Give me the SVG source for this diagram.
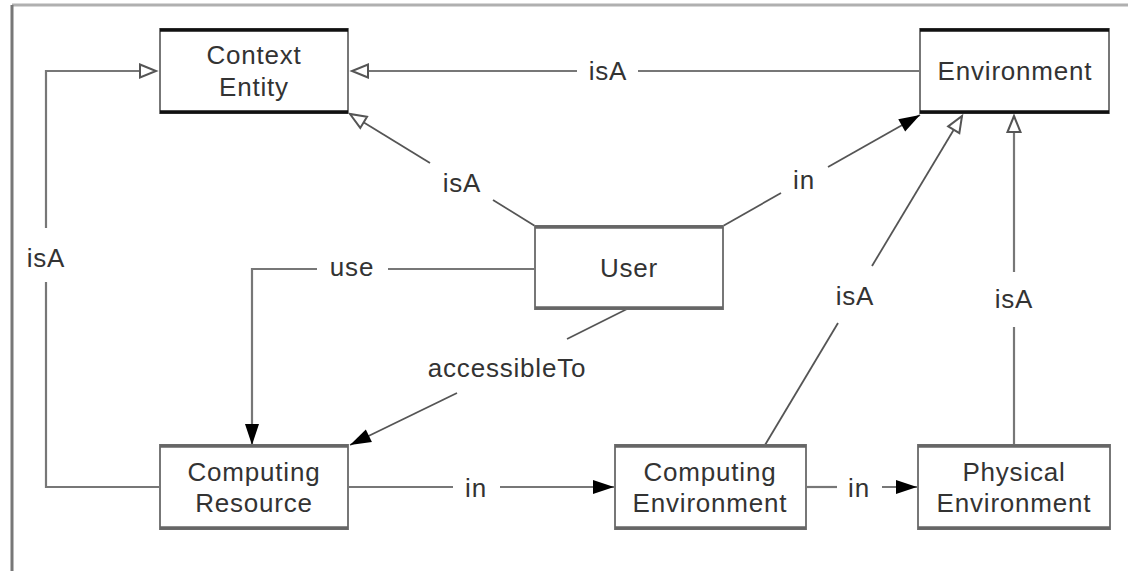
<svg xmlns="http://www.w3.org/2000/svg" width="1128" height="571" viewBox="0 0 1128 571">
<style>
text{font-family:"Liberation Sans",Arial,sans-serif;font-size:26px;fill:#333;text-anchor:middle;letter-spacing:0.8px}
.box{fill:#fff;stroke:#777;stroke-width:2}
.edgeTop{stroke:#111;stroke-width:3.5}
.edgeLow{stroke:#666;stroke-width:3.5}
.c{fill:none;stroke:#777;stroke-width:2.2}
.d{fill:none;stroke:#555;stroke-width:1.8}
.frame{stroke:#b0b0b0;stroke-width:3}
</style>
<defs>
<marker id="open" markerUnits="userSpaceOnUse" markerWidth="22" markerHeight="18" refX="18" refY="8" orient="auto">
<path d="M2,1.5 L18,8 L2,14.5 Z" fill="#fff" stroke="#555" stroke-width="2"/>
</marker>
<marker id="fill" markerUnits="userSpaceOnUse" markerWidth="24" markerHeight="18" refX="22" refY="8" orient="auto">
<path d="M1,1 L22,8 L1,15 Z" fill="#000"/>
</marker>
</defs>
<line class="frame" x1="12" y1="5" x2="1128" y2="5"/>
<line x1="12" y1="5" x2="12" y2="571" stroke="#777" stroke-width="3"/>
<g id="connectors">
<polyline class="c" points="160,487 46,487 46,282"/>
<polyline class="c" points="46,228 46,71 156,71" marker-end="url(#open)"/>
<text x="46" y="267">isA</text>
<line class="c" x1="920" y1="71" x2="638" y2="71"/>
<line class="c" x1="577" y1="71" x2="352" y2="71" marker-end="url(#open)"/>
<text x="608" y="80">isA</text>
<line class="d" x1="535" y1="226" x2="493" y2="200"/>
<line class="d" x1="430" y1="163" x2="350" y2="114" marker-end="url(#open)"/>
<text x="462" y="192">isA</text>
<line class="d" x1="723" y1="226" x2="781" y2="193"/>
<line class="d" x1="828" y1="167" x2="920" y2="115" marker-end="url(#fill)"/>
<text x="804" y="189">in</text>
<line class="d" x1="765" y1="445" x2="838" y2="323"/>
<line class="d" x1="872" y1="266" x2="962" y2="116" marker-end="url(#open)"/>
<text x="855" y="305">isA</text>
<line class="c" x1="1014" y1="445" x2="1014" y2="327"/>
<line class="c" x1="1014" y1="272" x2="1014" y2="116" marker-end="url(#open)"/>
<text x="1014" y="308">isA</text>
<line class="c" x1="535" y1="269" x2="388" y2="269"/>
<polyline class="c" points="317,269 252,269 252,445" marker-end="url(#fill)"/>
<text x="352" y="276">use</text>
<line class="d" x1="627" y1="309" x2="567" y2="339"/>
<line class="d" x1="457" y1="393" x2="350" y2="445" marker-end="url(#fill)"/>
<text x="507" y="377">accessibleTo</text>
<line class="c" x1="348" y1="487" x2="453" y2="487"/>
<line class="c" x1="500" y1="487" x2="614" y2="487" marker-end="url(#fill)"/>
<text x="476" y="497">in</text>
<line class="c" x1="806" y1="487" x2="837" y2="487"/>
<line class="c" x1="882" y1="487" x2="917" y2="487" marker-end="url(#fill)"/>
<text x="859" y="497">in</text>
</g>
<g id="context-entity">
<rect class="box" x="160" y="29" width="188" height="84"/>
<line class="edgeTop" x1="160" y1="30" x2="348" y2="30"/>
<line class="edgeTop" x1="160" y1="112" x2="348" y2="112"/>
<text x="254" y="64">Context</text>
<text x="254" y="96">Entity</text>
</g>
<g id="environment">
<rect class="box" x="920" y="29" width="189" height="84"/>
<line class="edgeTop" x1="920" y1="30" x2="1109" y2="30"/>
<line class="edgeTop" x1="920" y1="112" x2="1109" y2="112"/>
<text x="1015" y="80">Environment</text>
</g>
<g id="user">
<rect class="box" x="535" y="226" width="188" height="83"/>
<line class="edgeLow" x1="535" y1="227" x2="723" y2="227"/>
<line class="edgeLow" x1="535" y1="308" x2="723" y2="308"/>
<text x="629" y="277">User</text>
</g>
<g id="computing-resource">
<rect class="box" x="160" y="445" width="188" height="84"/>
<line class="edgeLow" x1="160" y1="446" x2="348" y2="446"/>
<line class="edgeLow" x1="160" y1="528" x2="348" y2="528"/>
<text x="254" y="481">Computing</text>
<text x="254" y="512">Resource</text>
</g>
<g id="computing-environment">
<rect class="box" x="615" y="445" width="191" height="84"/>
<line class="edgeLow" x1="615" y1="446" x2="806" y2="446"/>
<line class="edgeLow" x1="615" y1="528" x2="806" y2="528"/>
<text x="710" y="481">Computing</text>
<text x="710" y="512">Environment</text>
</g>
<g id="physical-environment">
<rect class="box" x="918" y="445" width="192" height="84"/>
<line class="edgeLow" x1="918" y1="446" x2="1110" y2="446"/>
<line class="edgeLow" x1="918" y1="528" x2="1110" y2="528"/>
<text x="1014" y="481">Physical</text>
<text x="1014" y="512">Environment</text>
</g>
</svg>
